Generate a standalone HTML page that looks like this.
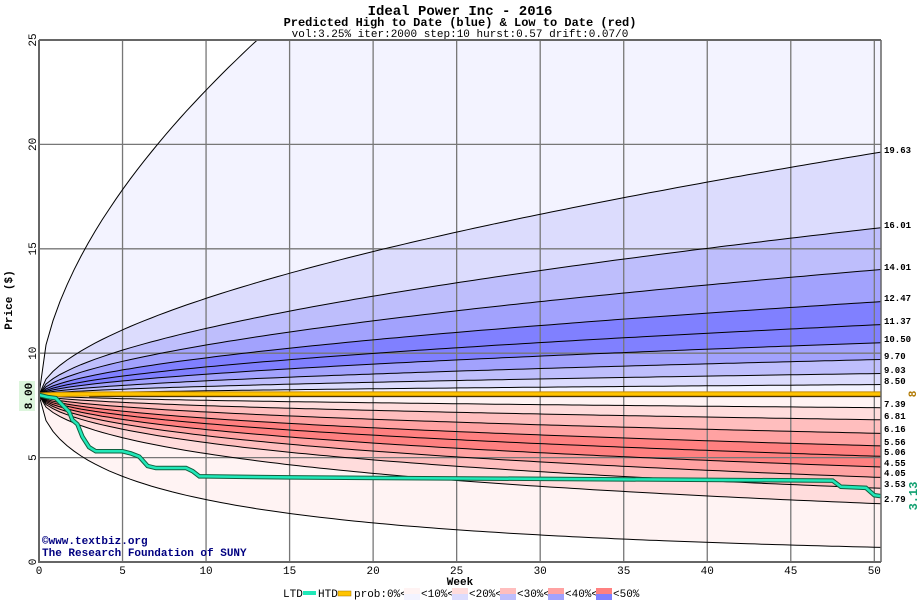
<!DOCTYPE html>
<html><head><meta charset="utf-8">
<style>
body{margin:0;background:#fff;width:920px;height:600px;overflow:hidden}
svg text{font-family:"Liberation Mono","DejaVu Sans Mono",monospace}
</style></head><body>
<svg id="s" width="920" height="600" xmlns="http://www.w3.org/2000/svg">
<text x="460" y="15" text-anchor="middle" font-size="14" font-weight="bold" style="font-family:'Liberation Mono',monospace">Ideal Power Inc - 2016</text>
<text x="460" y="26" text-anchor="middle" font-size="12" font-weight="bold">Predicted High to Date (blue) &amp;  Low to Date (red)</text>
<text x="460" y="37" text-anchor="middle" font-size="11">vol:3.25% iter:2000 step:10 hurst:0.57 drift:0.07/0</text>
<g id="plot"></g>
</svg>
<script>
const NS="http://www.w3.org/2000/svg";
const X0=39,X1=881,T=50.4,PX=(X1-X0)/T;
const Y=v=>562-v*20.88, X=t=>X0+t*PX;
const plot=document.getElementById('plot');
function el(n,a,p){const e=document.createElementNS(NS,n);for(const k in a)e.setAttribute(k,a[k]);(p||plot).appendChild(e);return e;}
const N=120;
function up(f,h){const p=[];for(let i=0;i<=N;i++){const t=T*i/N;p.push([X(t),Y(8+(f-8)*Math.pow(t/T,h))]);}return p;}
function dn(f,h){const p=[];for(let i=0;i<=N;i++){const t=T*i/N;p.push([X(t),Y(8*Math.exp(Math.log(f/8)*Math.pow(t/T,h)))]);}return p;}
const ups=[[44.7,0.57],[19.63,0.57],[16.01,0.57],[14.01,0.57],[12.47,0.57],[11.37,0.57],[10.50,0.57],[9.70,0.57],[9.03,0.57],[8.50,0.57]].map(a=>up(a[0],a[1]));
ups.push(up(8.05,0.5));
const dns=[[7.96,0.5],[7.39,0.55],[6.81,0.55],[6.16,0.55],[5.56,0.55],[5.06,0.55],[4.55,0.55],[4.05,0.55],[3.53,0.55],[2.79,0.55],[0.7,0.56]].map(a=>dn(a[0],a[1]));
const ucol=['#f3f3ff','#dcdcfd','#bebefc','#a2a2fd','#8080ff','#8080ff','#a2a2fd','#bebefc','#dcdcfd','#f3f3ff'];
const dcol=['#fff3f3','#ffdcdc','#ffbebe','#ffa2a2','#ff8080','#ff8080','#ffa2a2','#ffbebe','#ffdcdc','#fff3f3'];
const ps=p=>p.map(q=>q[0].toFixed(1)+','+q[1].toFixed(1)).join(' ');
el('clipPath',{id:'cp'});
const cp=document.getElementById('cp');el('rect',{x:X0,y:40,width:X1-X0,height:522},cp);
const g=el('g',{'clip-path':'url(#cp)'});
function elg(n,a){return el(n,a,g);}
function bandg(a,b,c){elg('polygon',{points:ps(a)+' '+ps(b.slice().reverse()),fill:c});}
for(let i=0;i<10;i++)bandg(ups[i],ups[i+1],ucol[i]);
for(let i=0;i<10;i++)bandg(dns[i],dns[i+1],dcol[i]);
bandg(ups[10],dns[0],'#fff3f3');
for(let w=5;w<=50;w+=5)elg('line',{x1:X(w),x2:X(w),y1:40,y2:562,stroke:'#777','stroke-width':1.3});
for(let v=5;v<=20;v+=5)elg('line',{x1:X0,x2:X1,y1:Y(v),y2:Y(v),stroke:'#777','stroke-width':1.3});
for(let i=0;i<10;i++)elg('polyline',{points:ps(ups[i]),fill:'none',stroke:'#000','stroke-width':1});
for(let i=1;i<11;i++)elg('polyline',{points:ps(dns[i]),fill:'none',stroke:'#000','stroke-width':1});
elg('line',{x1:X(3),x2:X1,y1:Y(7.93),y2:Y(7.93),stroke:'#000','stroke-width':1.5});
const H=[[X(0),Y(8)],[X(1),Y(8.02)],[X(4),Y(8.05)],[X1,Y(8.05)]];
elg('polyline',{points:ps(H),fill:'none',stroke:'#c88c00','stroke-width':5});
elg('polyline',{points:ps(H),fill:'none',stroke:'#ffc400','stroke-width':3});
const L=[[0,8],[0.5,7.9],[1,7.85],[1.3,7.6],[1.8,7.2],[2,6.8],[2.3,6.6],[2.6,6],[3,5.5],[3.4,5.3],[5,5.3],[5.5,5.2],[6,5.05],[6.5,4.6],[7,4.5],[8.8,4.5],[9.2,4.35],[9.6,4.1],[10,4.1],[15,4.05],[47.5,3.9],[48,3.6],[49.5,3.55],[50,3.2],[50.4,3.15]].map(q=>[X(q[0]),Y(q[1])]);
elg('polyline',{points:ps(L),fill:'none',stroke:'#106040','stroke-width':4.5});
elg('polyline',{points:ps(L),fill:'none',stroke:'#20e8b8','stroke-width':2.5});
el('line',{x1:X0,x2:X1,y1:40,y2:40,stroke:'#666','stroke-width':2});
el('line',{x1:X0,x2:X1,y1:562,y2:562,stroke:'#666','stroke-width':2});
el('line',{x1:X0,x2:X0,y1:40,y2:563,stroke:'#666','stroke-width':2});
el('line',{x1:X1,x2:X1,y1:40,y2:562,stroke:'#666','stroke-width':1.5});
for(let v=0;v<=25;v+=5){const t=el('text',{x:0,y:0,'font-size':11,'text-anchor':'middle',transform:`translate(36,${Y(v)}) rotate(-90)`});t.textContent=v;}
for(let w=0;w<=50;w+=5){const t=el('text',{x:X(w),y:574,'font-size':11,'text-anchor':'middle'});t.textContent=w;}
el('rect',{x:19,y:381,width:16,height:30,fill:'#dcf5dc'});
let t=el('text',{'font-size':11,'font-weight':'bold','text-anchor':'middle',transform:`translate(32,396) rotate(-90)`});t.textContent='8.00';
t=el('text',{'font-size':11,'font-weight':'bold','text-anchor':'middle',transform:`translate(12,300) rotate(-90)`});t.textContent='Price ($)';
t=el('text',{x:460,y:585,'font-size':11,'font-weight':'bold','text-anchor':'middle'});t.textContent='Week';
const labs=[[19.63,150],[16.01,225],[14.01,267],[12.47,298],[11.37,321],[10.50,339],[9.70,356],[9.03,370],[8.50,381],[7.39,404],[6.81,416],[6.16,429],[5.56,442],[5.06,452],[4.55,463],[4.05,473],[3.53,484],[2.79,499]];
for(const [v,y] of labs){t=el('text',{x:884,y:y+3,'font-size':9,'font-weight':'bold'});t.textContent=v.toFixed(2);}
t=el('text',{'font-size':11,'font-weight':'bold',fill:'#b07800','text-anchor':'middle',transform:`translate(916,394) rotate(-90)`});t.textContent='8';
t=el('text',{'font-size':12,'font-weight':'bold',fill:'#10a070','text-anchor':'middle',transform:`translate(917,496) rotate(-90)`});t.textContent='3.13';
t=el('text',{x:42,y:544,'font-size':11,'font-weight':'bold',fill:'#000080'});t.textContent='©www.textbiz.org';
t=el('text',{x:42,y:556,'font-size':11,'font-weight':'bold',fill:'#000080'});t.textContent='The Research Foundation of SUNY';
t=el('text',{x:283,y:597,'font-size':11});t.textContent='LTD';
el('rect',{x:303,y:591,width:13,height:4,fill:'#20e8b8'});
t=el('text',{x:318,y:597,'font-size':11});t.textContent='HTD';
el('rect',{x:338,y:591,width:13,height:5,fill:'#ffc400',stroke:'#a07000','stroke-width':0.5});
t=el('text',{x:354,y:597,'font-size':11});t.textContent='prob:0%<';
const lg=[[404,'#fff3f3','#f3f3ff','<10%<'],[452,'#ffdcdc','#dcdcfd','<20%<'],[500,'#ffbebe','#bebefc','<30%<'],[548,'#ffa2a2','#a2a2fd','<40%<'],[596,'#ff8080','#8080ff','<50%']];
for(const [x,a,b,s] of lg){el('rect',{x:x,y:588,width:16,height:6,fill:a});el('rect',{x:x,y:594,width:16,height:6,fill:b});t=el('text',{x:x+17,y:597,'font-size':11});t.textContent=s;}
</script>
</body></html>
